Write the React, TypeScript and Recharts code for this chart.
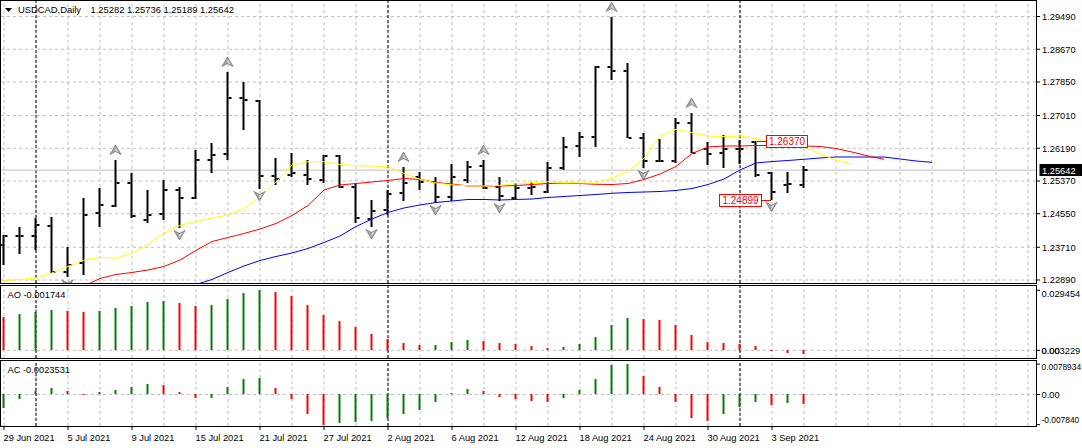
import React from "react";
import { ComposedChart, Bar, Line, Scatter, XAxis, YAxis, ReferenceLine } from "recharts";

const FONT = "'Liberation Sans', Arial, Helvetica, sans-serif";
const FS = 9.3;
const GREEN = "#008000";
const RED = "#ff0000";
const GRID = "#c0c0c0";

// ---------- data ----------
const symbolTitle = "USDCAD,Daily";
const tickLabels = [
  "29 Jun 2021", "5 Jul 2021", "9 Jul 2021", "15 Jul 2021", "21 Jul 2021", "27 Jul 2021",
  "2 Aug 2021", "6 Aug 2021", "12 Aug 2021", "18 Aug 2021", "24 Aug 2021", "30 Aug 2021", "3 Sep 2021",
];
const monthStartIdx = [2, 24, 46];
const priceLevels = [1.2289, 1.2371, 1.2455, 1.2537, 1.2619, 1.2701, 1.2785, 1.2867, 1.2949];

const opens = [
  1.23767, 1.23992, 1.23992, 1.24243, 1.23078, 1.23316, 1.24568, 1.24744, 1.2532, 1.24393,
  1.24543, 1.25145, 1.24944, 1.25896, 1.26046, 1.27449, 1.27374, 1.25495, 1.2552, 1.2552,
  1.25395, 1.25996, 1.2522, 1.24418, 1.24644, 1.25069, 1.2547, 1.25345, 1.24969, 1.25395,
  1.25746, 1.2522, 1.24944, 1.25195, 1.25094, 1.25696, 1.26247, 1.26472, 1.28226, 1.28125,
  1.26447, 1.25871, 1.25871, 1.26823, 1.26172, 1.26071, 1.26172, 1.26347, 1.2557, 1.2527,
  1.25282,
];
const highs = [
  1.24017, 1.24218, 1.24443, 1.24468, 1.23717, 1.24944, 1.25195, 1.25896, 1.2557, 1.25145,
  1.25395, 1.2522, 1.26147, 1.26322, 1.281, 1.2785, 1.27399, 1.25946, 1.26071, 1.25896,
  1.26021, 1.26021, 1.2532, 1.24894, 1.25145, 1.25721, 1.25595, 1.2547, 1.25796, 1.25871,
  1.25896, 1.2547, 1.2532, 1.25345, 1.25846, 1.26472, 1.26597, 1.28251, 1.29478, 1.28326,
  1.26572, 1.26422, 1.26948, 1.27073, 1.26347, 1.26522, 1.26397, 1.2637, 1.25595, 1.25595,
  1.25736,
];
const lows = [
  1.23266, 1.23541, 1.23642, 1.23053, 1.22953, 1.23003, 1.24218, 1.24719, 1.24443, 1.24318,
  1.24393, 1.24193, 1.24919, 1.2557, 1.25896, 1.26648, 1.2517, 1.2527, 1.2547, 1.2527,
  1.2532, 1.25195, 1.24318, 1.24218, 1.24518, 1.24869, 1.25145, 1.24819, 1.24869, 1.2532,
  1.2517, 1.24869, 1.24907, 1.25019, 1.25069, 1.25646, 1.25971, 1.26222, 1.279, 1.26435,
  1.25696, 1.25846, 1.25821, 1.26059, 1.25771, 1.25696, 1.25796, 1.2547, 1.24899, 1.25069,
  1.25189,
];
const closes = [
  1.23992, 1.23992, 1.24268, 1.23078, 1.23266, 1.24518, 1.24769, 1.2532, 1.24493, 1.24518,
  1.25145, 1.24944, 1.25896, 1.26021, 1.27449, 1.27399, 1.25495, 1.2542, 1.2557, 1.2542,
  1.25996, 1.2522, 1.24443, 1.24618, 1.25044, 1.2532, 1.25345, 1.24969, 1.2547, 1.25721,
  1.25195, 1.24994, 1.25195, 1.2522, 1.25696, 1.26222, 1.26472, 1.28226, 1.28125, 1.26447,
  1.25871, 1.25871, 1.26823, 1.26071, 1.26046, 1.26172, 1.26172, 1.2552, 1.25094, 1.25295,
  1.25642,
];

// Alligator lines (jaw = blue, teeth = red, lips = yellow); start = first bar index
const JAW_START = 11;
const jawValues = [
  1.2269, 1.22777, 1.22903, 1.23078, 1.23241, 1.23378, 1.23479, 1.23566, 1.23679, 1.23829,
  1.23992, 1.2423, 1.24418, 1.24581, 1.24694, 1.24769, 1.24831, 1.24869, 1.24907, 1.24907,
  1.24894, 1.24907, 1.24919, 1.24957, 1.24982, 1.25007, 1.25032, 1.25062, 1.25082, 1.25094,
  1.25107, 1.25132, 1.25182, 1.25282, 1.2542, 1.25646, 1.25821, 1.25858, 1.25884, 1.25914,
  1.25946, 1.25971, 1.25971, 1.25971, 1.25971, 1.25921, 1.25871, 1.25838,
];
const TEETH_START = 5;
const teethValues = [
  1.2274, 1.22928, 1.23028, 1.23078, 1.23141, 1.23228, 1.23391, 1.23629, 1.23854, 1.23955,
  1.24055, 1.24168, 1.24305, 1.24506, 1.24756, 1.25145, 1.2527, 1.25307, 1.25345, 1.25383,
  1.25433, 1.25408, 1.25332, 1.25295, 1.25245, 1.25245, 1.25245, 1.25257, 1.25282, 1.25307,
  1.2532, 1.25307, 1.25287, 1.25282, 1.25307, 1.25408, 1.25545, 1.25733, 1.26059, 1.26222,
  1.26247, 1.26247, 1.26259, 1.26259, 1.26259, 1.26247, 1.26234, 1.26184, 1.26096, 1.25996,
  1.25914,
];
const LIPS_START = 0;
const lipsValues = [
  1.22877, 1.22903, 1.2294, 1.23065, 1.23228, 1.23391, 1.23459, 1.23434, 1.23566, 1.23779,
  1.2406, 1.24255, 1.2436, 1.24443, 1.24523, 1.24686, 1.24969, 1.25345, 1.25771, 1.25853,
  1.25853, 1.25783, 1.25751, 1.25746, 1.25726, 1.25563, 1.25413, 1.2532, 1.2527, 1.2525,
  1.25245, 1.25262, 1.253, 1.2533, 1.25352, 1.25332, 1.2532, 1.2532, 1.25445, 1.25608,
  1.25939, 1.26497, 1.26665, 1.2658, 1.26497, 1.26482, 1.26497, 1.26435, 1.26359, 1.26297,
  1.26234, 1.26046, 1.25896, 1.25796,
];

const fractalUpIdx = [7, 14, 25, 30, 38, 43];
const fractalDownIdx = [4, 11, 16, 23, 27, 31, 40, 48];
const markHighIdx = 47;
const markLowIdx = 48;

const aoValues = [
  0.01636, 0.01767, 0.01865, 0.01964, 0.01915, 0.01865, 0.01915, 0.02062, 0.0216, 0.02356,
  0.02405, 0.02307, 0.0219, 0.0221, 0.02504, 0.02798, 0.029454, 0.02847, 0.02651, 0.02209,
  0.01718, 0.01424, 0.01129, 0.00785, 0.0054, 0.00344, 0.00245, 0.0026, 0.00393, 0.00491,
  0.00442, 0.00344, 0.00295, 0.00196, 0.00115, 0.00164, 0.00311, 0.00654, 0.01243, 0.01587,
  0.01538, 0.01489, 0.01243, 0.00753, 0.00409, 0.0036, 0.00311, 0.00213, -0.0002, -0.0011,
  -0.001744,
];
const AO_FIRST_RISING = false;
const acValues = [
  -0.0036, -0.00104, 0.00087, 0.00173, 0.00087, 0.00017, 0.00052, 0.00113, 0.0019, 0.00268,
  0.00242, 0.00052, -0.00087, -0.0008, 0.0019, 0.00398, 0.00424, 0.00165, -0.00121, -0.00511,
  -0.00784, -0.00753, -0.0071, -0.00684, -0.00623, -0.00511, -0.00407, -0.0019, 0.00043, 0.00139,
  0.00087, -0.0006, -0.00121, -0.00165, -0.0019, -0.00087, 0.00113, 0.00398, 0.00762, 0.0078934,
  0.00476, 0.0019, -0.0019, -0.00606, -0.00684, -0.00511, -0.00321, -0.0019, -0.0028, -0.0022,
  -0.0023531,
];
const AC_FIRST_RISING = true;

const aoScaleValues = [0.029454, 0];
const aoScaleTexts = [["0.029454"], ["0.003229", "0.00"]];
const acScaleValues = [0.0078934, 0, -0.00784];
const acScaleTexts = [["0.0078934"], ["0.00"], ["-0.007840"]];

// ---------- derived rows ----------
const SLOTS = 65;
const gridIdx = Array.from({ length: 33 }, (_, k) => k * 2);
const labelIdx = tickLabels.map((_, k) => k * 4);
const lastClose = closes[closes.length - 1];

const colorOf = (vals: number[], i: number, firstRising: boolean) =>
  (i === 0 ? firstRising : vals[i] > vals[i - 1]) ? GREEN : RED;

const rows = Array.from({ length: SLOTS }, (_, i) => {
  const bar = i < closes.length;
  const pick = (start: number, vals: number[]) =>
    i >= start && i < start + vals.length ? vals[i - start] : null;
  return {
    i,
    hl: bar ? [lows[i], highs[i]] : null,
    o: bar ? opens[i] : null,
    h: bar ? highs[i] : null,
    l: bar ? lows[i] : null,
    c: bar ? closes[i] : null,
    jaw: pick(JAW_START, jawValues),
    teeth: pick(TEETH_START, teethValues),
    lips: pick(LIPS_START, lipsValues),
    fu: fractalUpIdx.includes(i) ? highs[i] : null,
    fd: fractalDownIdx.includes(i) ? lows[i] : null,
    hiMark: i === markHighIdx ? highs[i] : null,
    loMark: i === markLowIdx ? lows[i] : null,
    ao: bar ? aoValues[i] : null,
    aoColor: bar ? colorOf(aoValues, i, AO_FIRST_RISING) : null,
    ac: bar ? acValues[i] : null,
    acColor: bar ? colorOf(acValues, i, AC_FIRST_RISING) : null,
  };
});

// ---------- geometry ----------
const CW = 1087;
const YW = 47;
const LEFT = -4.5;
const MAIN_DOMAIN: [number, number] = [1.228148, 1.29879];
const AO_DOMAIN: [number, number] = [-0.00378, 0.031566];
const AC_DOMAIN: [number, number] = [-0.008182, 0.008701];

// ---------- shapes ----------
const OhlcShape = (props: any) => {
  const { x, y, width, height, payload } = props;
  if (!payload || payload.o == null || !isFinite(x) || !isFinite(y)) return null;
  const cx = Math.round(x + width / 2);
  const t = Math.min(y, y + height);
  const b = Math.max(y, y + height);
  const span = payload.h - payload.l;
  const py = (v: number) => (span > 0 ? t + ((payload.h - v) / span) * (b - t) : t);
  const top = Math.round(t);
  const bot = Math.round(b);
  const yO = Math.round(py(payload.o));
  const yC = Math.round(py(payload.c));
  return (
    <g fill="#000">
      <rect x={cx - 1.5} y={top} width={2} height={Math.max(bot - top, 1)} />
      <rect x={cx - 4.5} y={yO - 1} width={3} height={2} />
      <rect x={cx + 0.5} y={yC - 1} width={3} height={2} />
    </g>
  );
};

const makeHist = (colorKey: string) => (props: any) => {
  const { x, y, width, height, payload } = props;
  if (!payload || payload[colorKey] == null || !isFinite(x) || !isFinite(y)) return null;
  const cx = Math.round(x + width / 2);
  const t = Math.round(Math.min(y, y + height));
  const b = Math.round(Math.max(y, y + height));
  return <rect x={cx - 1.5} y={t} width={2} height={Math.max(b - t, 1)} fill={payload[colorKey]} />;
};
const AoShape = makeHist("aoColor");
const AcShape = makeHist("acColor");
const NoShape = () => null;

const UpArrow = (props: any) => {
  const { cx, cy, payload } = props;
  if (!payload || payload.fu == null || !isFinite(cx) || !isFinite(cy)) return null;
  const x = Math.round(cx) - 0.5;
  const y = cy - 10;
  return (
    <g>
      <polygon points={`${x},${y - 5} ${x + 5.5},${y + 4.5} ${x},${y + 1.5} ${x - 5.5},${y + 4.5}`} fill="#a4a4a4" stroke="#6f6f6f" strokeWidth={0.7} />
      <polygon points={`${x},${y - 3} ${x + 3},${y + 2.5} ${x},${y + 0.8}`} fill="#e0e0e0" />
    </g>
  );
};
const DownArrow = (props: any) => {
  const { cx, cy, payload } = props;
  if (!payload || payload.fd == null || !isFinite(cx) || !isFinite(cy)) return null;
  const x = Math.round(cx) - 0.5;
  const y = cy + 7;
  return (
    <g>
      <polygon points={`${x},${y + 5} ${x + 5.5},${y - 4.5} ${x},${y - 1.5} ${x - 5.5},${y - 4.5}`} fill="#a4a4a4" stroke="#6f6f6f" strokeWidth={0.7} />
      <polygon points={`${x},${y + 3} ${x + 3},${y - 2.5} ${x},${y - 0.8}`} fill="#e0e0e0" />
    </g>
  );
};

const HiLabel = (props: any) => {
  const { cx, cy, payload } = props;
  if (!payload || payload.hiMark == null || !isFinite(cx) || !isFinite(cy)) return null;
  const y = Math.round(cy) + 0.5;
  return (
    <g>
      <line x1={cx + 1} x2={cx + 11} y1={y} y2={y} stroke={RED} />
      <rect x={Math.round(cx) + 10.5} y={y - 6} width={41} height={12} fill="#fff" stroke={RED} />
      <text x={Math.round(cx) + 31} y={y + 3.6} textAnchor="middle" fontSize={10} fontFamily={FONT} fill={RED}>
        {Number(payload.hiMark).toFixed(5)}
      </text>
    </g>
  );
};
const LoLabel = (props: any) => {
  const { cx, cy, payload } = props;
  if (!payload || payload.loMark == null || !isFinite(cx) || !isFinite(cy)) return null;
  const y = Math.round(cy) + 0.5;
  return (
    <g>
      <line x1={cx - 10} x2={cx - 1} y1={y} y2={y} stroke={RED} />
      <rect x={Math.round(cx) - 52.5} y={y - 6} width={42} height={12} fill="#fff" stroke={RED} />
      <text x={Math.round(cx) - 31.5} y={y + 3.6} textAnchor="middle" fontSize={10} fontFamily={FONT} fill={RED}>
        {Number(payload.loMark).toFixed(5)}
      </text>
    </g>
  );
};

// ---------- ticks ----------
const PriceTick = (props: any) => {
  const { x, y, payload } = props;
  if (!isFinite(x) || !isFinite(y)) return null;
  return (
    <g>
      <line x1={x + 1} x2={x + 4} y1={y} y2={y} stroke="#000" />
      <text x={x + 6} y={y + 3.3} fontSize={FS} fontFamily={FONT} fill="#000">
        {Number(payload.value).toFixed(5)}
      </text>
    </g>
  );
};

const makeScaleTick = (values: number[], texts: string[][], shifts: number[]) => (props: any) => {
  const { x, y, payload } = props;
  const k = values.indexOf(Number(payload.value));
  if (k < 0 || !isFinite(x) || !isFinite(y)) return null;
  return (
    <g>
      <line x1={x + 1} x2={x + 4} y1={y} y2={y} stroke="#000" />
      {texts[k].map((t, j) => (
        <text
          key={j}
          x={x + 5.5}
          y={y + shifts[k] + 3.3}
          fontSize={t.length >= 9 ? 8.4 : FS}
          fontFamily={FONT}
          fill="#000"
        >
          {t}
        </text>
      ))}
    </g>
  );
};
const AoTick = makeScaleTick(aoScaleValues, aoScaleTexts, [3, 0.7]);
const AcTick = makeScaleTick(acScaleValues, acScaleTexts, [3, 0.5, -4.7]);

const DateTick = (props: any) => {
  const { x, y, payload } = props;
  const k = labelIdx.indexOf(Number(payload.value));
  if (k < 0 || !isFinite(x) || !isFinite(y)) return null;
  return (
    <g>
      <line x1={x} x2={x} y1={y} y2={y + 4} stroke="#000" />
      <text x={x - 0.5} y={y + 14.5} fontSize={FS} fontFamily={FONT} fill="#000">
        {tickLabels[k]}
      </text>
    </g>
  );
};

const BidLabel = (props: any) => {
  const vb = props.viewBox || {};
  const xr = (vb.x || 0) + (vb.width || 0);
  const y = vb.y || 0;
  return (
    <g>
      <rect x={xr + 3.5} y={Math.round(y) - 6} width={44} height={12} fill="#000" />
      <text x={xr + 6} y={y + 3.5} fontSize={FS} fontFamily={FONT} fill="#fff">
        {lastClose.toFixed(5)}
      </text>
    </g>
  );
};

// ---------- grid layer ----------
const gridLines = (withLevels: boolean, zeroLine: boolean) => [
  ...(withLevels
    ? priceLevels.map((p) => <ReferenceLine key={`h${p}`} y={p} stroke={GRID} strokeDasharray="3 3" />)
    : []),
  ...(zeroLine ? [<ReferenceLine key="zero" y={0} stroke={GRID} strokeDasharray="3 3" />] : []),
  ...gridIdx.map((i) => <ReferenceLine key={`v${i}`} x={i} stroke={GRID} strokeDasharray="3 3" />),
  ...monthStartIdx.map((i) => <ReferenceLine key={`m${i}`} x={i} stroke="#000" strokeDasharray="3 2" />),
];

const Layer = ({ top, children }: { top: number; children: React.ReactNode }) => (
  <div style={{ position: "absolute", left: LEFT, top }}>{children}</div>
);

export default function App() {
  return (
    <div style={{ position: "absolute", left: 0, top: 0, width: 1082, height: 448, background: "#fff", overflow: "hidden" }}>
      {/* ===== main panel ===== */}
      <Layer top={0}>
        <ComposedChart width={CW} height={285} data={rows} margin={{ top: 1, right: 0, bottom: 2, left: 0 }}>
          <XAxis dataKey="i" type="category" scale="band" hide />
          <YAxis orientation="right" width={YW} type="number" domain={MAIN_DOMAIN} allowDataOverflow tick={false} axisLine={false} tickLine={false} />
          <Bar dataKey="c" barSize={8} shape={NoShape} isAnimationActive={false} />
          {gridLines(true, false)}
          <ReferenceLine y={lastClose} stroke={GRID} label={<BidLabel />} />
        </ComposedChart>
      </Layer>
      <Layer top={0}>
        <ComposedChart width={CW} height={285} data={rows} margin={{ top: 1, right: 0, bottom: 2, left: 0 }}>
          <XAxis dataKey="i" type="category" scale="band" hide />
          <YAxis
            orientation="right"
            width={YW}
            type="number"
            domain={MAIN_DOMAIN}
            allowDataOverflow
            ticks={priceLevels}
            interval={0}
            tick={<PriceTick />}
            tickSize={0}
            tickMargin={0}
            axisLine={false}
            tickLine={false}
          />
          <Bar dataKey="hl" barSize={8} shape={(p: any) => <OhlcShape {...p} />} isAnimationActive={false} />
          <Line dataKey="jaw" type="linear" stroke="#0000ff" strokeWidth={1} dot={false} activeDot={false} isAnimationActive={false} />
          <Line dataKey="teeth" type="linear" stroke="#ff0000" strokeWidth={1} dot={false} activeDot={false} isAnimationActive={false} />
          <Line dataKey="lips" type="linear" stroke="#ffff00" strokeWidth={1} dot={false} activeDot={false} isAnimationActive={false} />
          <Scatter dataKey="fu" shape={(p: any) => <UpArrow {...p} />} isAnimationActive={false} />
          <Scatter dataKey="fd" shape={(p: any) => <DownArrow {...p} />} isAnimationActive={false} />
          <Scatter dataKey="hiMark" shape={(p: any) => <HiLabel {...p} />} isAnimationActive={false} />
          <Scatter dataKey="loMark" shape={(p: any) => <LoLabel {...p} />} isAnimationActive={false} />
        </ComposedChart>
      </Layer>

      {/* ===== AO panel ===== */}
      <Layer top={285}>
        <ComposedChart width={CW} height={74} data={rows} margin={{ top: 1, right: 0, bottom: 1, left: 0 }}>
          <XAxis dataKey="i" type="category" scale="band" hide />
          <YAxis orientation="right" width={YW} type="number" domain={AO_DOMAIN} allowDataOverflow tick={false} axisLine={false} tickLine={false} />
          <Bar dataKey="ao" barSize={2} shape={NoShape} isAnimationActive={false} />
          {gridLines(false, true)}
        </ComposedChart>
      </Layer>
      <Layer top={285}>
        <ComposedChart width={CW} height={74} data={rows} margin={{ top: 1, right: 0, bottom: 1, left: 0 }}>
          <XAxis dataKey="i" type="category" scale="band" hide />
          <YAxis
            orientation="right"
            width={YW}
            type="number"
            domain={AO_DOMAIN}
            allowDataOverflow
            ticks={aoScaleValues}
            interval={0}
            tick={<AoTick />}
            tickSize={0}
            tickMargin={0}
            axisLine={false}
            tickLine={false}
          />
          <Bar dataKey="ao" barSize={2} shape={(p: any) => <AoShape {...p} />} isAnimationActive={false} />
        </ComposedChart>
      </Layer>

      {/* ===== AC panel ===== */}
      <Layer top={360}>
        <ComposedChart width={CW} height={88} data={rows} margin={{ top: 1, right: 0, bottom: 0, left: 0 }}>
          <XAxis dataKey="i" type="category" scale="band" height={22} tick={false} axisLine={false} tickLine={false} />
          <YAxis orientation="right" width={YW} type="number" domain={AC_DOMAIN} allowDataOverflow tick={false} axisLine={false} tickLine={false} />
          <Bar dataKey="ac" barSize={2} shape={NoShape} isAnimationActive={false} />
          {gridLines(false, true)}
        </ComposedChart>
      </Layer>
      <Layer top={360}>
        <ComposedChart width={CW} height={88} data={rows} margin={{ top: 1, right: 0, bottom: 0, left: 0 }}>
          <XAxis
            dataKey="i"
            type="category"
            scale="band"
            height={22}
            ticks={labelIdx}
            interval={0}
            tick={<DateTick />}
            tickSize={0}
            tickMargin={0}
            axisLine={false}
            tickLine={false}
          />
          <YAxis
            orientation="right"
            width={YW}
            type="number"
            domain={AC_DOMAIN}
            allowDataOverflow
            ticks={acScaleValues}
            interval={0}
            tick={<AcTick />}
            tickSize={0}
            tickMargin={0}
            axisLine={false}
            tickLine={false}
          />
          <Bar dataKey="ac" barSize={2} shape={(p: any) => <AcShape {...p} />} isAnimationActive={false} />
        </ComposedChart>
      </Layer>

      {/* ===== frames and captions ===== */}
      <svg width={1082} height={448} style={{ position: "absolute", left: 0, top: 0, pointerEvents: "none" }}>
        <rect x={0.5} y={0.5} width={1036} height={283} fill="none" stroke="#000" />
        <rect x={0.5} y={285.5} width={1036} height={73} fill="none" stroke="#000" />
        <rect x={0.5} y={360.5} width={1036} height={66} fill="none" stroke="#000" />
        <polygon points="5,8 12,8 8.5,12" fill="#000" />
        <text x={18} y={12.5} fontSize={9.4} fontFamily={FONT} fill="#000">{symbolTitle}</text>
        <text x={90.5} y={12.5} fontSize={9.4} fontFamily={FONT} fill="#000">
          {[opens, highs, lows, closes].map((a) => a[a.length - 1].toFixed(5)).join(" ")}
        </text>
        <text x={7.5} y={298.3} fontSize={FS} fontFamily={FONT} fill="#000">
          {`AO ${aoValues[aoValues.length - 1].toFixed(6)}`}
        </text>
        <text x={7.5} y={373.3} fontSize={FS} fontFamily={FONT} fill="#000">
          {`AC ${acValues[acValues.length - 1].toFixed(7)}`}
        </text>
      </svg>
    </div>
  );
}
